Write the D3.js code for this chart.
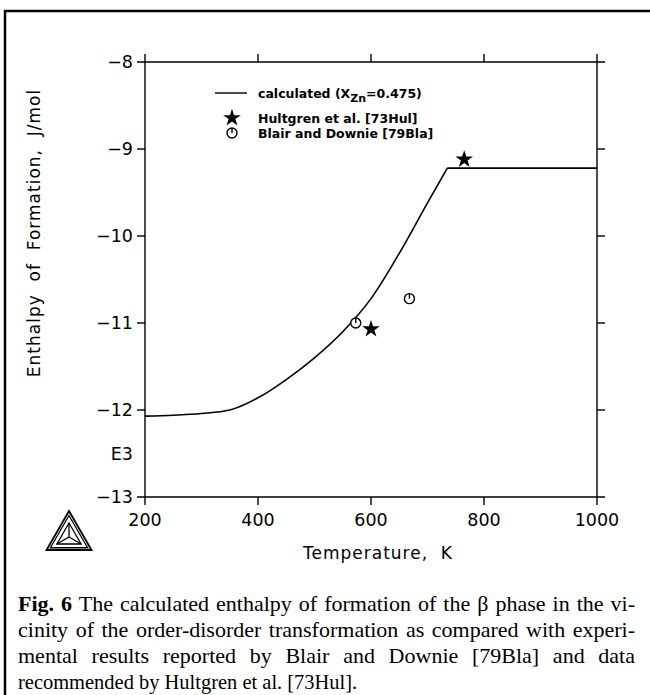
<!DOCTYPE html>
<html>
<head>
<meta charset="utf-8">
<script src="https://cdn.jsdelivr.net/npm/d3@7.9.0/dist/d3.min.js"></script>
<style>
  html, body { margin: 0; padding: 0; background: #fff; }
  svg { display: block; }
</style>
</head>
<body>
<svg id="chart" width="650" height="695"></svg>
<script>
// ---------- Data ----------
// calculated enthalpy curve, x_Zn = 0.475 (rising part, then flat above the transition)
const curveT = [200, 250, 300, 350, 400, 450, 500, 550, 600, 650, 700, 735];
const curveH = [-12.07, -12.06, -12.04, -12.0, -11.86, -11.65, -11.4, -11.1, -10.72, -10.2, -9.62, -9.22];
const flatT = [735, 1000];
const flatH = [-9.22, -9.22];

// Hultgren et al. [73Hul]
const hulT = [600, 765];
const hulH = [-11.07, -9.12];

// Blair and Downie [79Bla]
const blaT = [573, 668];
const blaH = [-11.0, -10.72];

const xTicks = [200, 400, 600, 800, 1000];
const yTicks = [-8, -9, -10, -11, -12, -13];

const captionLines = [
  " The calculated enthalpy of formation of the \u03b2 phase in the vi-",
  "cinity of the order-disorder transformation as compared with experi-",
  "mental results reported by Blair and Downie [79Bla] and data",
  "recommended by Hultgren et al. [73Hul]."
];

// ---------- Setup ----------
const svg = d3.select("#chart");
const sans = "DejaVu Sans, sans-serif";

const x = d3.scaleLinear().domain([200, 1000]).range([145, 597]);
const y = d3.scaleLinear().domain([-13, -8]).range([497, 62]);

svg.append("rect").attr("width", 650).attr("height", 695).attr("fill", "#fff");

// outer frame (top + left edges)
svg.append("path")
  .attr("d", "M5,695 L5,11 L650,11")
  .attr("fill", "none").attr("stroke", "#000").attr("stroke-width", 2.5);

// ---------- Axes ----------
const tickLen = 8;
const axisG = svg.append("g").attr("stroke", "#000").attr("stroke-width", 1.4);

// box lines, slightly overshooting at corners
axisG.append("line").attr("x1", x(200) - tickLen).attr("x2", x(1000) + tickLen).attr("y1", y(-8)).attr("y2", y(-8));
axisG.append("line").attr("x1", x(200) - tickLen).attr("x2", x(1000) + tickLen).attr("y1", y(-13)).attr("y2", y(-13));
axisG.append("line").attr("x1", x(200)).attr("x2", x(200)).attr("y1", y(-8) - tickLen).attr("y2", y(-13) + tickLen);
axisG.append("line").attr("x1", x(1000)).attr("x2", x(1000)).attr("y1", y(-8) - tickLen).attr("y2", y(-13) + tickLen);

// y ticks (left and right, outward)
yTicks.slice(1, -1).forEach((v) => {
  axisG.append("line").attr("x1", x(200) - tickLen).attr("x2", x(200)).attr("y1", y(v)).attr("y2", y(v));
  axisG.append("line").attr("x1", x(1000)).attr("x2", x(1000) + tickLen).attr("y1", y(v)).attr("y2", y(v));
});
// x ticks (top and bottom, outward)
xTicks.slice(1, -1).forEach((v) => {
  axisG.append("line").attr("x1", x(v)).attr("x2", x(v)).attr("y1", y(-8) - tickLen).attr("y2", y(-8));
  axisG.append("line").attr("x1", x(v)).attr("x2", x(v)).attr("y1", y(-13)).attr("y2", y(-13) + tickLen);
});

// tick labels
svg.append("g").selectAll("text").data(yTicks).join("text")
  .attr("x", x(200) - 12).attr("y", (d) => y(d))
  .attr("dy", "0.36em").attr("text-anchor", "end")
  .attr("font-family", sans).attr("font-size", 17.5)
  .text((d) => "\u2212" + Math.abs(d));

svg.append("g").selectAll("text").data(xTicks).join("text")
  .attr("x", (d) => x(d)).attr("y", y(-13) + 23)
  .attr("dy", "0.36em").attr("text-anchor", "middle")
  .attr("font-family", sans).attr("font-size", 17.5)
  .text((d) => d);

// exponent marker
svg.append("text").attr("x", x(200) - 12).attr("y", y(-12.5))
  .attr("dy", "0.36em").attr("text-anchor", "end")
  .attr("font-family", sans).attr("font-size", 17.5).text("E3");

// axis titles
svg.append("text").attr("x", 378).attr("y", 553).attr("dy", "0.36em")
  .attr("text-anchor", "middle").attr("font-family", sans).attr("font-size", 17)
  .attr("letter-spacing", 1)
  .attr("xml:space", "preserve")
  .text("Temperature,  K");

svg.append("text").attr("transform", "translate(34,233) rotate(-90)")
  .attr("dy", "0.36em").attr("text-anchor", "middle")
  .attr("font-family", sans).attr("font-size", 17).attr("letter-spacing", 1)
  .attr("xml:space", "preserve")
  .text("Enthalpy  of  Formation,  J/mol");

// ---------- Curve ----------
const line = d3.line().x((d) => x(d[0])).y((d) => y(d[1])).curve(d3.curveMonotoneX);
svg.append("path")
  .datum(curveT.map((t, i) => [t, curveH[i]]))
  .attr("d", line)
  .attr("fill", "none").attr("stroke", "#000").attr("stroke-width", 1.6);
svg.append("path")
  .datum(flatT.map((t, i) => [t, flatH[i]]))
  .attr("d", line)
  .attr("fill", "none").attr("stroke", "#000").attr("stroke-width", 1.6);

// ---------- Markers ----------
const star = d3.symbol().type(d3.symbolStar).size(95);

function drawStar(g, cx, cy) {
  g.append("path").attr("d", star()).attr("transform", `translate(${cx},${cy})`)
    .attr("fill", "#000");
}
function drawCircle(g, cx, cy) {
  g.append("circle").attr("cx", cx).attr("cy", cy).attr("r", 5)
    .attr("fill", "#fff").attr("stroke", "#000").attr("stroke-width", 1.4);
  g.append("line").attr("x1", cx).attr("x2", cx).attr("y1", cy - 5).attr("y2", cy)
    .attr("stroke", "#000").attr("stroke-width", 1.4);
}

const markG = svg.append("g");
hulT.forEach((t, i) => drawStar(markG, x(t), y(hulH[i])));
blaT.forEach((t, i) => drawCircle(markG, x(t), y(blaH[i])));

// ---------- Legend ----------
const legG = svg.append("g").attr("font-family", sans).attr("font-size", 12.5).attr("font-weight", "bold");
legG.append("line").attr("x1", 215).attr("x2", 247).attr("y1", 93).attr("y2", 93)
  .attr("stroke", "#000").attr("stroke-width", 1.4);
const t1 = legG.append("text").attr("x", 258).attr("y", 93).attr("dy", "0.36em");
t1.append("tspan").text("calculated (X");
t1.append("tspan").attr("dy", 4).attr("font-size", 11).text("Zn");
t1.append("tspan").attr("dy", -4).text("=0.475)");

drawStar(legG, 232, 118);
legG.append("text").attr("x", 258).attr("y", 118).attr("dy", "0.36em").text("Hultgren et al. [73Hul]");
drawCircle(legG, 232, 133);
legG.append("text").attr("x", 258).attr("y", 133).attr("dy", "0.36em").text("Blair and Downie [79Bla]");

// ---------- Logo (triangle) ----------
const logo = svg.append("g").attr("fill", "none").attr("stroke", "#000");
const lx = 69, ly = 537;
function tri(r) {
  const pts = [0, 1, 2].map((k) => {
    const a = -Math.PI / 2 + k * 2 * Math.PI / 3;
    return [lx + r * Math.cos(a), ly + r * Math.sin(a)];
  });
  return "M" + pts.map((p) => p.join(",")).join("L") + "Z";
}
logo.append("path").attr("d", tri(26)).attr("stroke-width", 1.8);
logo.append("path").attr("d", tri(21.5)).attr("stroke-width", 1.3);
logo.append("path").attr("d", tri(14)).attr("stroke-width", 1.3);
[0, 1, 2].forEach((k) => {
  const a = -Math.PI / 2 + k * 2 * Math.PI / 3;
  logo.append("line").attr("x1", lx).attr("y1", ly)
    .attr("x2", lx + 14 * Math.cos(a)).attr("y2", ly + 14 * Math.sin(a))
    .attr("stroke-width", 1.3);
});

// ---------- Caption ----------
// justified lines: widen word gaps when short, squeeze glyphs when long
const capG = svg.append("g").attr("font-family", "Liberation Serif, Times New Roman, serif").attr("font-size", 22);
const capBase = [611, 637, 663, 689];
const capWidth = 617;
captionLines.forEach((txt, i) => {
  const t = capG.append("text").attr("x", 18).attr("y", capBase[i]).attr("xml:space", "preserve");
  if (i === 0) t.append("tspan").attr("font-weight", "bold").text("Fig. 6");
  t.append("tspan").text(txt);
  const natural = t.node().getComputedTextLength();
  if (i === captionLines.length - 1) {
    t.attr("textLength", natural * 0.93).attr("lengthAdjust", "spacingAndGlyphs");
  } else if (natural < capWidth) {
    const full = (i === 0 ? "Fig. 6" : "") + txt;
    const gaps = (full.trim().match(/ /g) || []).length;
    t.attr("word-spacing", (capWidth - natural) / gaps);
  } else {
    t.attr("textLength", capWidth).attr("lengthAdjust", "spacingAndGlyphs");
  }
});
</script>
</body>
</html>
